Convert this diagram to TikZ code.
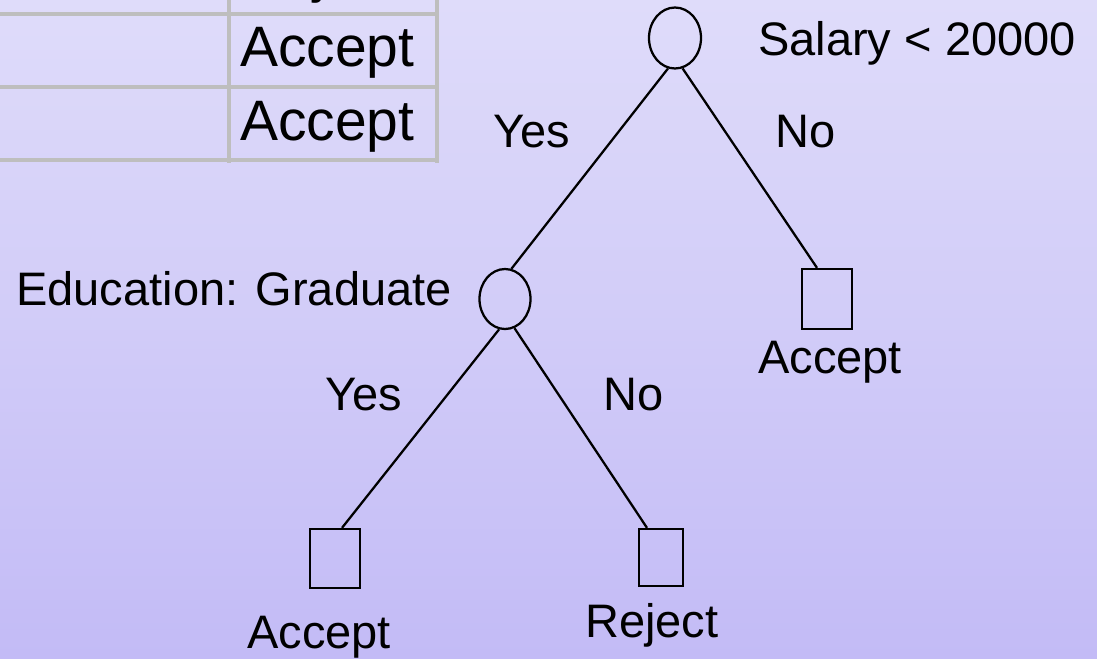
\documentclass[tikz,border=0pt]{standalone}
\usepackage{fontspec}
\setmainfont{Liberation Sans}
\usetikzlibrary{shapes.geometric}

\definecolor{bgtop}{RGB}{223,220,250}
\definecolor{bgbottom}{RGB}{195,187,246}
\definecolor{gridgray}{RGB}{190,190,190}

\tikzset{
  x=0.75pt, y=-0.75pt,
  testnode/.style={draw=black, line width=1.7pt, ellipse, inner sep=0pt},
  leafnode/.style={draw=black, line width=1.7pt, rectangle, inner sep=0pt},
  branch/.style={draw=black, line width=1.7pt},
  lbl/.style={anchor=base west, inner sep=0pt, font=\fontsize{35.25}{40}\selectfont},
  celltext/.style={anchor=base west, inner sep=0pt, font=\fontsize{42.75}{48}\selectfont},
  rule/.style={draw=gridgray, line width=3pt}
}

\begin{document}
\begin{tikzpicture}
  % page frame and background
  \clip (0,0) rectangle (1097,658);
  \shade[top color=bgtop, bottom color=bgbottom] (0,0) rectangle (1097,658);

  % partial decision table in the corner
  \draw[rule] (0,14) -- (439,14);
  \draw[rule] (0,87) -- (439,87);
  \draw[rule] (0,160) -- (439,160);
  \draw[rule] (229,0) -- (229,163);
  \draw[rule] (437,0) -- (437,163);
  \node[celltext] (c0) at (240,-9) {Reject};
  \node[celltext] (c1) at (240,66) {Accept};
  \node[celltext] (c2) at (240,140) {Accept};

  % tree nodes
  \node[testnode, minimum width=39pt, minimum height=45.75pt] (root) at (675,38) {};
  \node[testnode, minimum width=38.25pt, minimum height=45pt] (edu) at (505,299) {};
  \node[leafnode, minimum width=37.5pt, minimum height=45pt] (rsq) at (827,299) {};
  \node[leafnode, minimum width=37.5pt, minimum height=44.25pt] (blsq) at (335,558.5) {};
  \node[leafnode, minimum width=33pt, minimum height=42.75pt] (brsq) at (661,557.5) {};

  % branches
  \draw[branch] (root.257) -- (edu.78);
  \draw[branch] (root.284) -- ([xshift=-7.5pt]rsq.north);
  \draw[branch] (edu.259) -- ([xshift=5.25pt]blsq.north);
  \draw[branch] (edu.288) -- ([xshift=-10.5pt]brsq.north);

  % labels
  \node[lbl] (tsal) at (758,55) {Salary < 20000};
  \node[lbl] (tyes1) at (493,147) {Yes};
  \node[lbl] (tno1) at (775,147) {No};
  \node[lbl] (tedu) at (16,305) {Education: Graduate};
  \node[lbl] (tyes2) at (325,410) {Yes};
  \node[lbl] (tno2) at (603,410) {No};
  \node[lbl] (tacc1) at (758,373) {Accept};
  \node[lbl] (tacc2) at (247,648) {Accept};
  \node[lbl] (trej) at (585,637) {Reject};
\end{tikzpicture}
\end{document}
